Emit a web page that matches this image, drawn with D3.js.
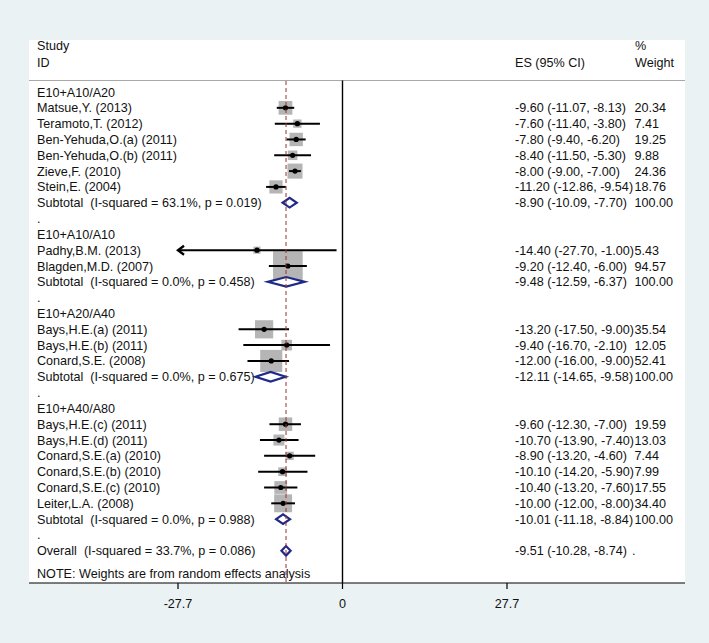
<!DOCTYPE html>
<html><head><meta charset="utf-8">
<script src="https://cdn.jsdelivr.net/npm/d3@7"></script>
<style>
html,body{margin:0;padding:0;background:#eaf2f3;}
svg{display:block;}
text{font-family:"Liberation Sans",Arial,sans-serif;font-size:12.6px;fill:#111;white-space:pre;}
</style></head>
<body>
<svg id="chart" width="709" height="643"></svg>
<script>
// ---- data ----
const groupNames = ["E10+A10/A20", "E10+A10/A10", "E10+A20/A40", "E10+A40/A80"];
const studyNames = [
  "Matsue,Y. (2013)", "Teramoto,T. (2012)", "Ben-Yehuda,O.(a) (2011)", "Ben-Yehuda,O.(b) (2011)", "Zieve,F. (2010)", "Stein,E. (2004)",
  "Padhy,B.M. (2013)", "Blagden,M.D. (2007)",
  "Bays,H.E.(a) (2011)", "Bays,H.E.(b) (2011)", "Conard,S.E. (2008)",
  "Bays,H.E.(c) (2011)", "Bays,H.E.(d) (2011)", "Conard,S.E.(a) (2010)", "Conard,S.E.(b) (2010)", "Conard,S.E.(c) (2010)", "Leiter,L.A. (2008)"
];
const studyGroup = [0,0,0,0,0,0, 1,1, 2,2,2, 3,3,3,3,3,3];
const studyES    = [-9.60,-7.60,-7.80,-8.40,-8.00,-11.20, -14.40,-9.20, -13.20,-9.40,-12.00, -9.60,-10.70,-8.90,-10.10,-10.40,-10.00];
const studyLower = [-11.07,-11.40,-9.40,-11.50,-9.00,-12.86, -27.70,-12.40, -17.50,-16.70,-16.00, -12.30,-13.90,-13.20,-14.20,-13.20,-12.00];
const studyUpper = [-8.13,-3.80,-6.20,-5.30,-7.00,-9.54, -1.00,-6.00, -9.00,-2.10,-9.00, -7.00,-7.40,-4.60,-5.90,-7.60,-8.00];
const studyWeight = [20.34,7.41,19.25,9.88,24.36,18.76, 5.43,94.57, 35.54,12.05,52.41, 19.59,13.03,7.44,7.99,17.55,34.40];

const subtotalLabels = [
  "Subtotal  (I-squared = 63.1%, p = 0.019)",
  "Subtotal  (I-squared = 0.0%, p = 0.458)",
  "Subtotal  (I-squared = 0.0%, p = 0.675)",
  "Subtotal  (I-squared = 0.0%, p = 0.988)"
];
const subtotalES    = [-8.90, -9.48, -12.11, -10.01];
const subtotalLower = [-10.09, -12.59, -14.65, -11.18];
const subtotalUpper = [-7.70, -6.37, -9.58, -8.84];
const subtotalWeight = [100.00, 100.00, 100.00, 100.00];

const overallLabel = "Overall  (I-squared = 33.7%, p = 0.086)";
const overallES = -9.51, overallLower = -10.28, overallUpper = -8.74;

const axisTicks = [-27.7, 0, 27.7];
const axisTickLabels = ["-27.7", "0", "27.7"];
const noteText = "NOTE: Weights are from random effects analysis";

// ---- layout ----
const W = 709, H = 643;
const panel = {x0: 29, x1: 685, y0: 40, y1: 583};
const svg = d3.select("#chart");

const x = d3.scaleLinear().domain([-27.7, 27.7]).range([178, 507]);
const y = d3.scaleLinear().domain([0, 1]).range([92, 92 + 15.82]);
const boxSide = d3.scaleSqrt().domain([0, 100]).range([0, 30.5]);

// build rows
const rows = [];
let r = 0;
groupNames.forEach((g, gi) => {
  rows.push({type: "group", label: g, row: r++});
  studyNames.forEach((s, i) => {
    if (studyGroup[i] === gi) rows.push({type: "study", label: s, es: studyES[i], lo: studyLower[i], hi: studyUpper[i], w: studyWeight[i], row: r++});
  });
  rows.push({type: "subtotal", label: subtotalLabels[gi], es: subtotalES[gi], lo: subtotalLower[gi], hi: subtotalUpper[gi], w: subtotalWeight[gi], row: r++});
  rows.push({type: "dot", label: ".", row: r++});
});
rows.push({type: "overall", label: overallLabel, es: overallES, lo: overallLower, hi: overallUpper, w: null, row: r++});
const noteRow = r + 0.45;

// background panel
svg.append("rect").attr("x", 0).attr("y", 0).attr("width", W).attr("height", H).attr("fill", "#eaf2f3");
svg.append("rect").attr("x", panel.x0).attr("y", panel.y0).attr("width", panel.x1 - panel.x0).attr("height", panel.y1 - panel.y0).attr("fill", "#ffffff");

// header
const hdr = svg.append("g");
hdr.append("text").attr("x", 37).attr("y", 49.5).text("Study");
hdr.append("text").attr("x", 37).attr("y", 66.5).text("ID");
hdr.append("text").attr("x", 515).attr("y", 66.5).text("ES (95% CI)");
hdr.append("text").attr("x", 635).attr("y", 49.5).text("%");
hdr.append("text").attr("x", 635).attr("y", 66.5).text("Weight");
svg.append("line").attr("x1", panel.x0).attr("x2", panel.x1).attr("y1", 80.5).attr("y2", 80.5)
  .attr("stroke", "#a8a8a8").attr("stroke-width", 1);

// left labels
svg.append("g").selectAll("text").data(rows).join("text")
  .attr("x", 37).attr("y", d => y(d.row) + 4.5)
  .text(d => d.label);
svg.append("text").attr("x", 37).attr("y", y(noteRow) + 4.5).text(noteText);

// right column text
const fmt = v => v.toFixed(2);
const estRows = rows.filter(d => d.es !== undefined);
svg.append("g").selectAll("text").data(estRows).join("text")
  .attr("x", 515).attr("y", d => y(d.row) + 4.5)
  .text(d => `${fmt(d.es)} (${fmt(d.lo)}, ${fmt(d.hi)})`);
svg.append("g").selectAll("text").data(estRows).join("text")
  .attr("x", d => d.w === null ? 632 : 634.5).attr("y", d => y(d.row) + 4.5)
  .text(d => d.w === null ? "." : fmt(d.w));

// null line (x = 0)
svg.append("line").attr("x1", x(0)).attr("x2", x(0)).attr("y1", 80.5).attr("y2", panel.y1)
  .attr("stroke", "#000").attr("stroke-width", 1.4);

// study boxes
const studies = rows.filter(d => d.type === "study");
svg.append("g").selectAll("rect").data(studies).join("rect")
  .attr("x", d => x(d.es) - boxSide(d.w) / 2)
  .attr("y", d => y(d.row) - boxSide(d.w) / 2)
  .attr("width", d => boxSide(d.w)).attr("height", d => boxSide(d.w))
  .attr("fill", "#b5b5b5");

// CI lines
const xmin = x.domain()[0];
svg.append("g").selectAll("line").data(studies).join("line")
  .attr("x1", d => x(Math.max(d.lo, xmin))).attr("x2", d => x(d.hi))
  .attr("y1", d => y(d.row)).attr("y2", d => y(d.row))
  .attr("stroke", "#000").attr("stroke-width", 2);
// arrows where CI reaches the axis limit
svg.append("g").selectAll("path").data(studies.filter(d => d.lo <= xmin)).join("path")
  .attr("d", d => { const ax = x(xmin), ay = y(d.row); return `M${ax + 6},${ay - 4.5} L${ax},${ay} L${ax + 6},${ay + 4.5}`; })
  .attr("fill", "none").attr("stroke", "#000").attr("stroke-width", 2.4);

// points
svg.append("g").selectAll("circle").data(studies).join("circle")
  .attr("cx", d => x(d.es)).attr("cy", d => y(d.row)).attr("r", 2.6).attr("fill", "#000");

// diamonds
const diam = rows.filter(d => d.type === "subtotal" || d.type === "overall");
svg.append("g").selectAll("path").data(diam).join("path")
  .attr("d", d => { const cy = y(d.row), h = 4.8; return `M${x(d.lo)},${cy} L${x(d.es)},${cy - h} L${x(d.hi)},${cy} L${x(d.es)},${cy + h} Z`; })
  .attr("fill", "#fff").attr("stroke", "#1e2a86").attr("stroke-width", 2.2).attr("stroke-linejoin", "miter");

// overall effect dashed line
svg.append("line").attr("x1", x(overallES)).attr("x2", x(overallES)).attr("y1", 81).attr("y2", panel.y1)
  .attr("stroke", "#9c3030").attr("stroke-width", 1).attr("stroke-dasharray", "4,3");

// x axis
const axisG = svg.append("g").attr("transform", `translate(0,${panel.y1})`);
axisG.append("line").attr("x1", panel.x0).attr("x2", panel.x1).attr("y1", 0).attr("y2", 0)
  .attr("stroke", "#000").attr("stroke-width", 1.2);
axisG.selectAll("line.tick").data(axisTicks).join("line").attr("class", "tick")
  .attr("x1", d => x(d)).attr("x2", d => x(d)).attr("y1", 0).attr("y2", 6)
  .attr("stroke", "#000").attr("stroke-width", 1.2);
axisG.selectAll("text").data(axisTicks).join("text")
  .attr("x", d => x(d)).attr("y", 24.5).attr("text-anchor", "middle")
  .text((d, i) => axisTickLabels[i]);
</script>
</body></html>
